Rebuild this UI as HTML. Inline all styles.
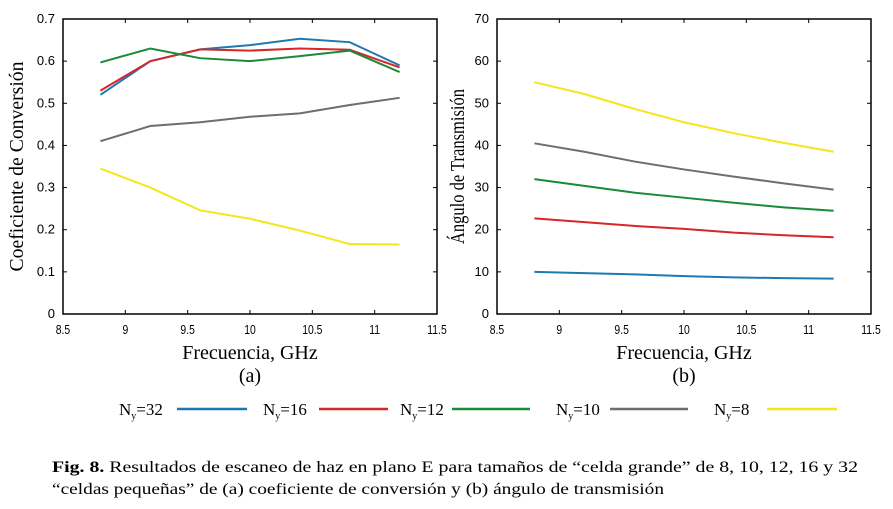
<!DOCTYPE html>
<html><head><meta charset="utf-8"><style>
body{margin:0;background:#fff;}
svg text{font-family:"Liberation Sans",sans-serif;}
.serif{font-family:"Liberation Serif",serif !important;}
</style></head><body>
<svg width="893" height="504" viewBox="0 0 893 504" xmlns="http://www.w3.org/2000/svg" id="fig">
<g id="chartA"></g>
<g id="chartB"></g>
<g font-size="17">
 <g><text x="119" y="415" class="serif">N<tspan font-size="10" dy="4">y</tspan><tspan dy="-4">=32</tspan></text><line x1="177" y1="409" x2="247" y2="409" stroke="#1f77b4" stroke-width="2.5"/></g>
 <g><text x="263" y="415" class="serif">N<tspan font-size="10" dy="4">y</tspan><tspan dy="-4">=16</tspan></text><line x1="319" y1="409" x2="388" y2="409" stroke="#d62728" stroke-width="2.5"/></g>
 <g><text x="400" y="415" class="serif">N<tspan font-size="10" dy="4">y</tspan><tspan dy="-4">=12</tspan></text><line x1="452" y1="409" x2="530" y2="409" stroke="#1a8a3a" stroke-width="2.5"/></g>
 <g><text x="556" y="415" class="serif">N<tspan font-size="10" dy="4">y</tspan><tspan dy="-4">=10</tspan></text><line x1="610" y1="409" x2="688" y2="409" stroke="#6e6e6e" stroke-width="2.5"/></g>
 <g><text x="714" y="415" class="serif">N<tspan font-size="10" dy="4">y</tspan><tspan dy="-4">=8</tspan></text><line x1="767" y1="409" x2="837" y2="409" stroke="#f5e61a" stroke-width="2.5"/></g>
</g>
<text x="52" y="472" class="serif" font-size="16" textLength="806" lengthAdjust="spacingAndGlyphs"><tspan font-weight="bold">Fig. 8.</tspan> Resultados de escaneo de haz en plano E para tamaños de “celda grande” de 8, 10, 12, 16 y 32</text>
<text x="52" y="494" class="serif" font-size="16" textLength="612" lengthAdjust="spacingAndGlyphs">“celdas pequeñas” de (a) coeficiente de conversión y (b) ángulo de transmisión</text>
</svg>
<script>
const freqs=[8.8,9.2,9.6,10,10.4,10.8,11.2];
const xTicks=[8.5,9,9.5,10,10.5,11,11.5];
const aTicks=[0,0.1,0.2,0.3,0.4,0.5,0.6,0.7];
const bTicks=[0,10,20,30,40,50,60,70];
const seriesNames=["ny32","ny16","ny12","ny10","ny8"];
const colors=["#1f77b4","#d62728","#1a8a3a","#6e6e6e","#f5e61a"];
const a32=[0.52,0.60,0.628,0.638,0.653,0.645,0.59];
const a16=[0.53,0.60,0.628,0.625,0.63,0.627,0.585];
const a12=[0.597,0.63,0.607,0.60,0.612,0.625,0.574];
const a10=[0.41,0.446,0.455,0.468,0.476,0.496,0.513];
const a8=[0.345,0.30,0.246,0.226,0.198,0.166,0.165];
const b32=[10,9.7,9.4,9.0,8.7,8.5,8.4];
const b16=[22.7,21.8,20.9,20.2,19.3,18.7,18.2];
const b12=[32,30.4,28.8,27.6,26.4,25.3,24.5];
const b10=[40.5,38.5,36.2,34.3,32.6,31.0,29.5];
const b8=[55,52.2,48.7,45.5,42.9,40.6,38.5];
const NS="http://www.w3.org/2000/svg";
function mk(t,at,p){const e=document.createElementNS(NS,t);for(const k in at)e.setAttribute(k,at[k]);p.appendChild(e);return e;}
function draw(gid,L,R,T,B,ymax,yt,series,ylab,ylen,yoff,sub,labfmt){
 const g=document.getElementById(gid);
 const sx=v=>L+(v-8.5)/3*(R-L), sy=v=>B-v/ymax*(B-T);
 const fr=mk('rect',{x:L,y:T,width:R-L,height:B-T,fill:'none',stroke:'#000','stroke-width':1.5},g);
 
 
 xTicks.forEach(v=>{const x=sx(v);
  mk('line',{x1:x,y1:B,x2:x,y2:B-4,stroke:'#000'},g);mk('line',{x1:x,y1:T,x2:x,y2:T+4,stroke:'#000'},g);
  const t=mk('text',{x:x,y:B+20,'font-size':13,'text-anchor':'middle',transform:`translate(${x},0) scale(0.8,1) translate(${-x},0)`},g);t.textContent=v;
  
  });
 yt.forEach(v=>{const y=sy(v);
  mk('line',{x1:L,y1:y,x2:L+4,y2:y,stroke:'#000'},g);mk('line',{x1:R,y1:y,x2:R-4,y2:y,stroke:'#000'},g);
  const t=mk('text',{x:L-8,y:y+4,'font-size':13,'text-anchor':'end'},g);t.textContent=labfmt(v);
  
  });
 series.forEach((s,i)=>{const p=mk('polyline',{points:s.map((v,j)=>sx(freqs[j])+','+sy(v)).join(' '),fill:'none',stroke:colors[i],'stroke-width':2},g);
  
  });
 const xl=mk('text',{x:(L+R)/2,y:B+45,'font-size':20,'text-anchor':'middle',class:'serif'},g);xl.textContent='Frecuencia, GHz';
 
 
 const sl=mk('text',{x:(L+R)/2,y:B+68,'font-size':20,'text-anchor':'middle',class:'serif'},g);sl.textContent=sub;
 
 
 const yl=mk('text',{x:0,y:0,'font-size':20,'text-anchor':'middle',class:'serif',textLength:ylen,lengthAdjust:'spacingAndGlyphs',transform:`translate(${L-yoff},${(T+B)/2}) rotate(-90)`},g);yl.textContent=ylab;
 
 
}
draw('chartA',63,437,19,314,0.7,aTicks,[a32,a16,a12,a10,a8],'Coeficiente de Conversión',210,40,'(a)',v=>v===0?'0':v.toFixed(1));
draw('chartB',497,871,19,314,70,bTicks,[b32,b16,b12,b10,b8],'Ángulo de Transmisión',155,33,'(b)',v=>String(v));
</script>
</body></html>
